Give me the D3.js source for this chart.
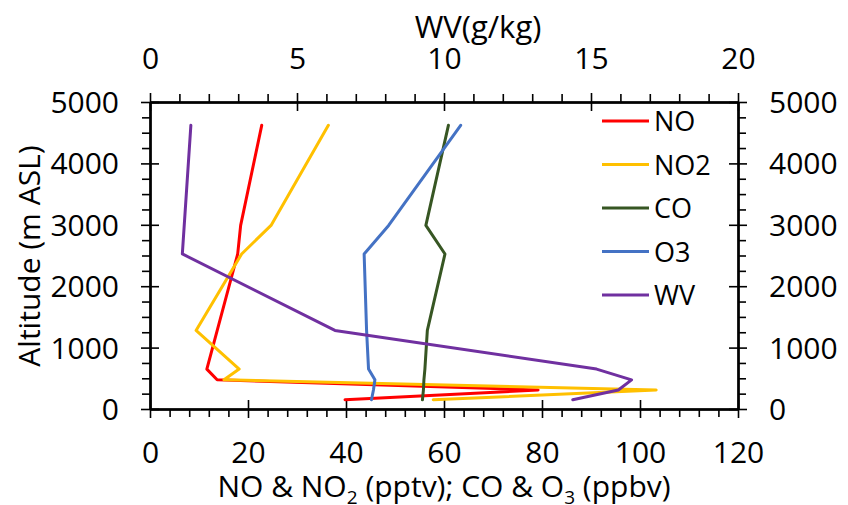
<!doctype html>
<html lang="en">
<head>
<meta charset="utf-8">
<style>
  body { margin: 0; background: #fff; }
  svg text { font-family: "Open Sans", sans-serif; fill: #000; }
  .axis path, .axis line { stroke: #000; }
  .axis path { stroke-width: 2; }
  .axis line { stroke-width: 1.6; }
</style>
</head>
<body>
<div id="chart"></div>
<script src="https://d3js.org/d3.v7.min.js"></script>
<script>

// altitude levels (m ASL) shared by all profiles
var altitude = [4620, 2990, 2525, 1280, 650, 475, 310, 150];

// profiles (null = no point at that level)
var no  = [22.8, 18.5, 17.9, null, 11.6, 13.7, 79.2, 39.8];
var no2 = [36.4, 24.7, 18.7, 9.4, 18.2, 15.1, 103.3, 57.8];
var co  = [60.9, 56.3, 60.2, 56.6, 56.1, 55.9, 55.8, 55.6];
var o3  = [63.4, 48.7, 43.7, 44.2, 44.6, 45.9, 45.6, 45.2];
var wv  = [1.39, null, 1.10, 6.29, 15.19, 16.38, 15.93, 14.38];

var names  = ["NO", "NO2", "CO", "O3", "WV"];
var colors = ["#ff0000", "#ffc000", "#375623", "#4472c4", "#7030a0"];

var xTicks  = [0, 20, 40, 60, 80, 100, 120];
var wvTicks = [0, 5, 10, 15, 20];
var yTicks  = [0, 1000, 2000, 3000, 4000, 5000];

var W = 848, H = 505;
var pLeft = 150, pRight = 738, pTop = 102, pBottom = 409;

var svg = d3.select("#chart").append("svg").attr("width", W).attr("height", H);

var x  = d3.scaleLinear().domain([0, 120]).range([pLeft, pRight]);
var xw = d3.scaleLinear().domain([0, 20]).range([pLeft, pRight]);
var y  = d3.scaleLinear().domain([0, 5000]).range([pBottom, pTop]);

var minorX = d3.range(0, 121, 4).filter(function(d){ return d % 20 != 0 });
var minorW = d3.range(0, 21, 1).filter(function(d){ return d % 5 != 0 });
var minorY = d3.range(0, 5001, 250).filter(function(d){ return d % 1000 != 0 });

function addAxis(axisFn, scale, majors, minors, tx, ty, labels) {
  var g = svg.append("g").attr("class", "axis").attr("transform", "translate(" + tx + "," + ty + ")");
  g.append("g").call(axisFn(scale).tickValues(minors).tickSize(8).tickSizeOuter(0).tickFormat(""));
  g.append("g").call(axisFn(scale).tickValues(majors).tickSize(-9).tickSizeOuter(0).tickFormat(""));
  var lab = g.append("g").call(axisFn(scale).tickValues(majors).tickSize(9).tickSizeOuter(0).tickFormat(d3.format("d")));
  lab.selectAll("text").style("font-size", "30px").attr("fill", "#000");
  labels(lab.selectAll("text"));
  return g;
}

addAxis(d3.axisBottom, x, xTicks, minorX, 0, pBottom, function(t){ t.attr("y", 54).attr("dy", null) });
addAxis(d3.axisTop, xw, wvTicks, minorW, 0, pTop, function(t){ t.attr("y", -33).attr("dy", null) });
addAxis(d3.axisLeft, y, yTicks, minorY, pLeft, 0, function(t){ t.attr("x", -31).attr("dy", "0.35em") });
addAxis(d3.axisRight, y, yTicks, minorY, pRight, 0, function(t){ t.attr("x", 31).attr("dy", "0.35em") });

// profiles
var series = [no, no2, co, o3, wv];
series.forEach(function(vals, i) {
  var sx = names[i] == "WV" ? xw : x;
  var pts = vals.map(function(v, j){ return [v, altitude[j]] }).filter(function(d){ return d[0] != null });
  var line = d3.line().x(function(d){ return sx(d[0]) }).y(function(d){ return y(d[1]) });
  svg.append("path")
    .datum(pts)
    .attr("d", line)
    .attr("fill", "none")
    .attr("stroke", colors[i])
    .attr("stroke-width", 3)
    .attr("stroke-linejoin", "round")
    .attr("stroke-linecap", "round");
});

// legend
var leg = svg.selectAll(".leg").data(names).enter().append("g")
  .attr("transform", function(d, i){ return "translate(602," + (121 + 43.5 * i) + ")" });
leg.append("line").attr("x1", 0).attr("x2", 47).attr("y1", 0).attr("y2", 0)
  .attr("stroke", function(d, i){ return colors[i] }).attr("stroke-width", 3);
leg.append("text").attr("x", 52).attr("y", 10).style("font-size", "27px").text(function(d){ return d });

// titles
svg.append("text").attr("x", 478).attr("y", 38).attr("text-anchor", "middle")
  .style("font-size", "31px").text("WV(g/kg)");

svg.append("text").attr("transform", "translate(40,256) rotate(-90)").attr("text-anchor", "middle")
  .style("font-size", "30px").text("Altitude (m ASL)");

var xt = svg.append("text").attr("x", 444).attr("y", 497).attr("text-anchor", "middle").style("font-size", "30px");
xt.append("tspan").text("NO & NO");
xt.append("tspan").attr("dy", 7).style("font-size", "19px").text("2");
xt.append("tspan").attr("dy", -7).text(" (pptv); CO & O");
xt.append("tspan").attr("dy", 7).style("font-size", "19px").text("3");
xt.append("tspan").attr("dy", -7).text(" (ppbv)");

</script>
</body>
</html>
